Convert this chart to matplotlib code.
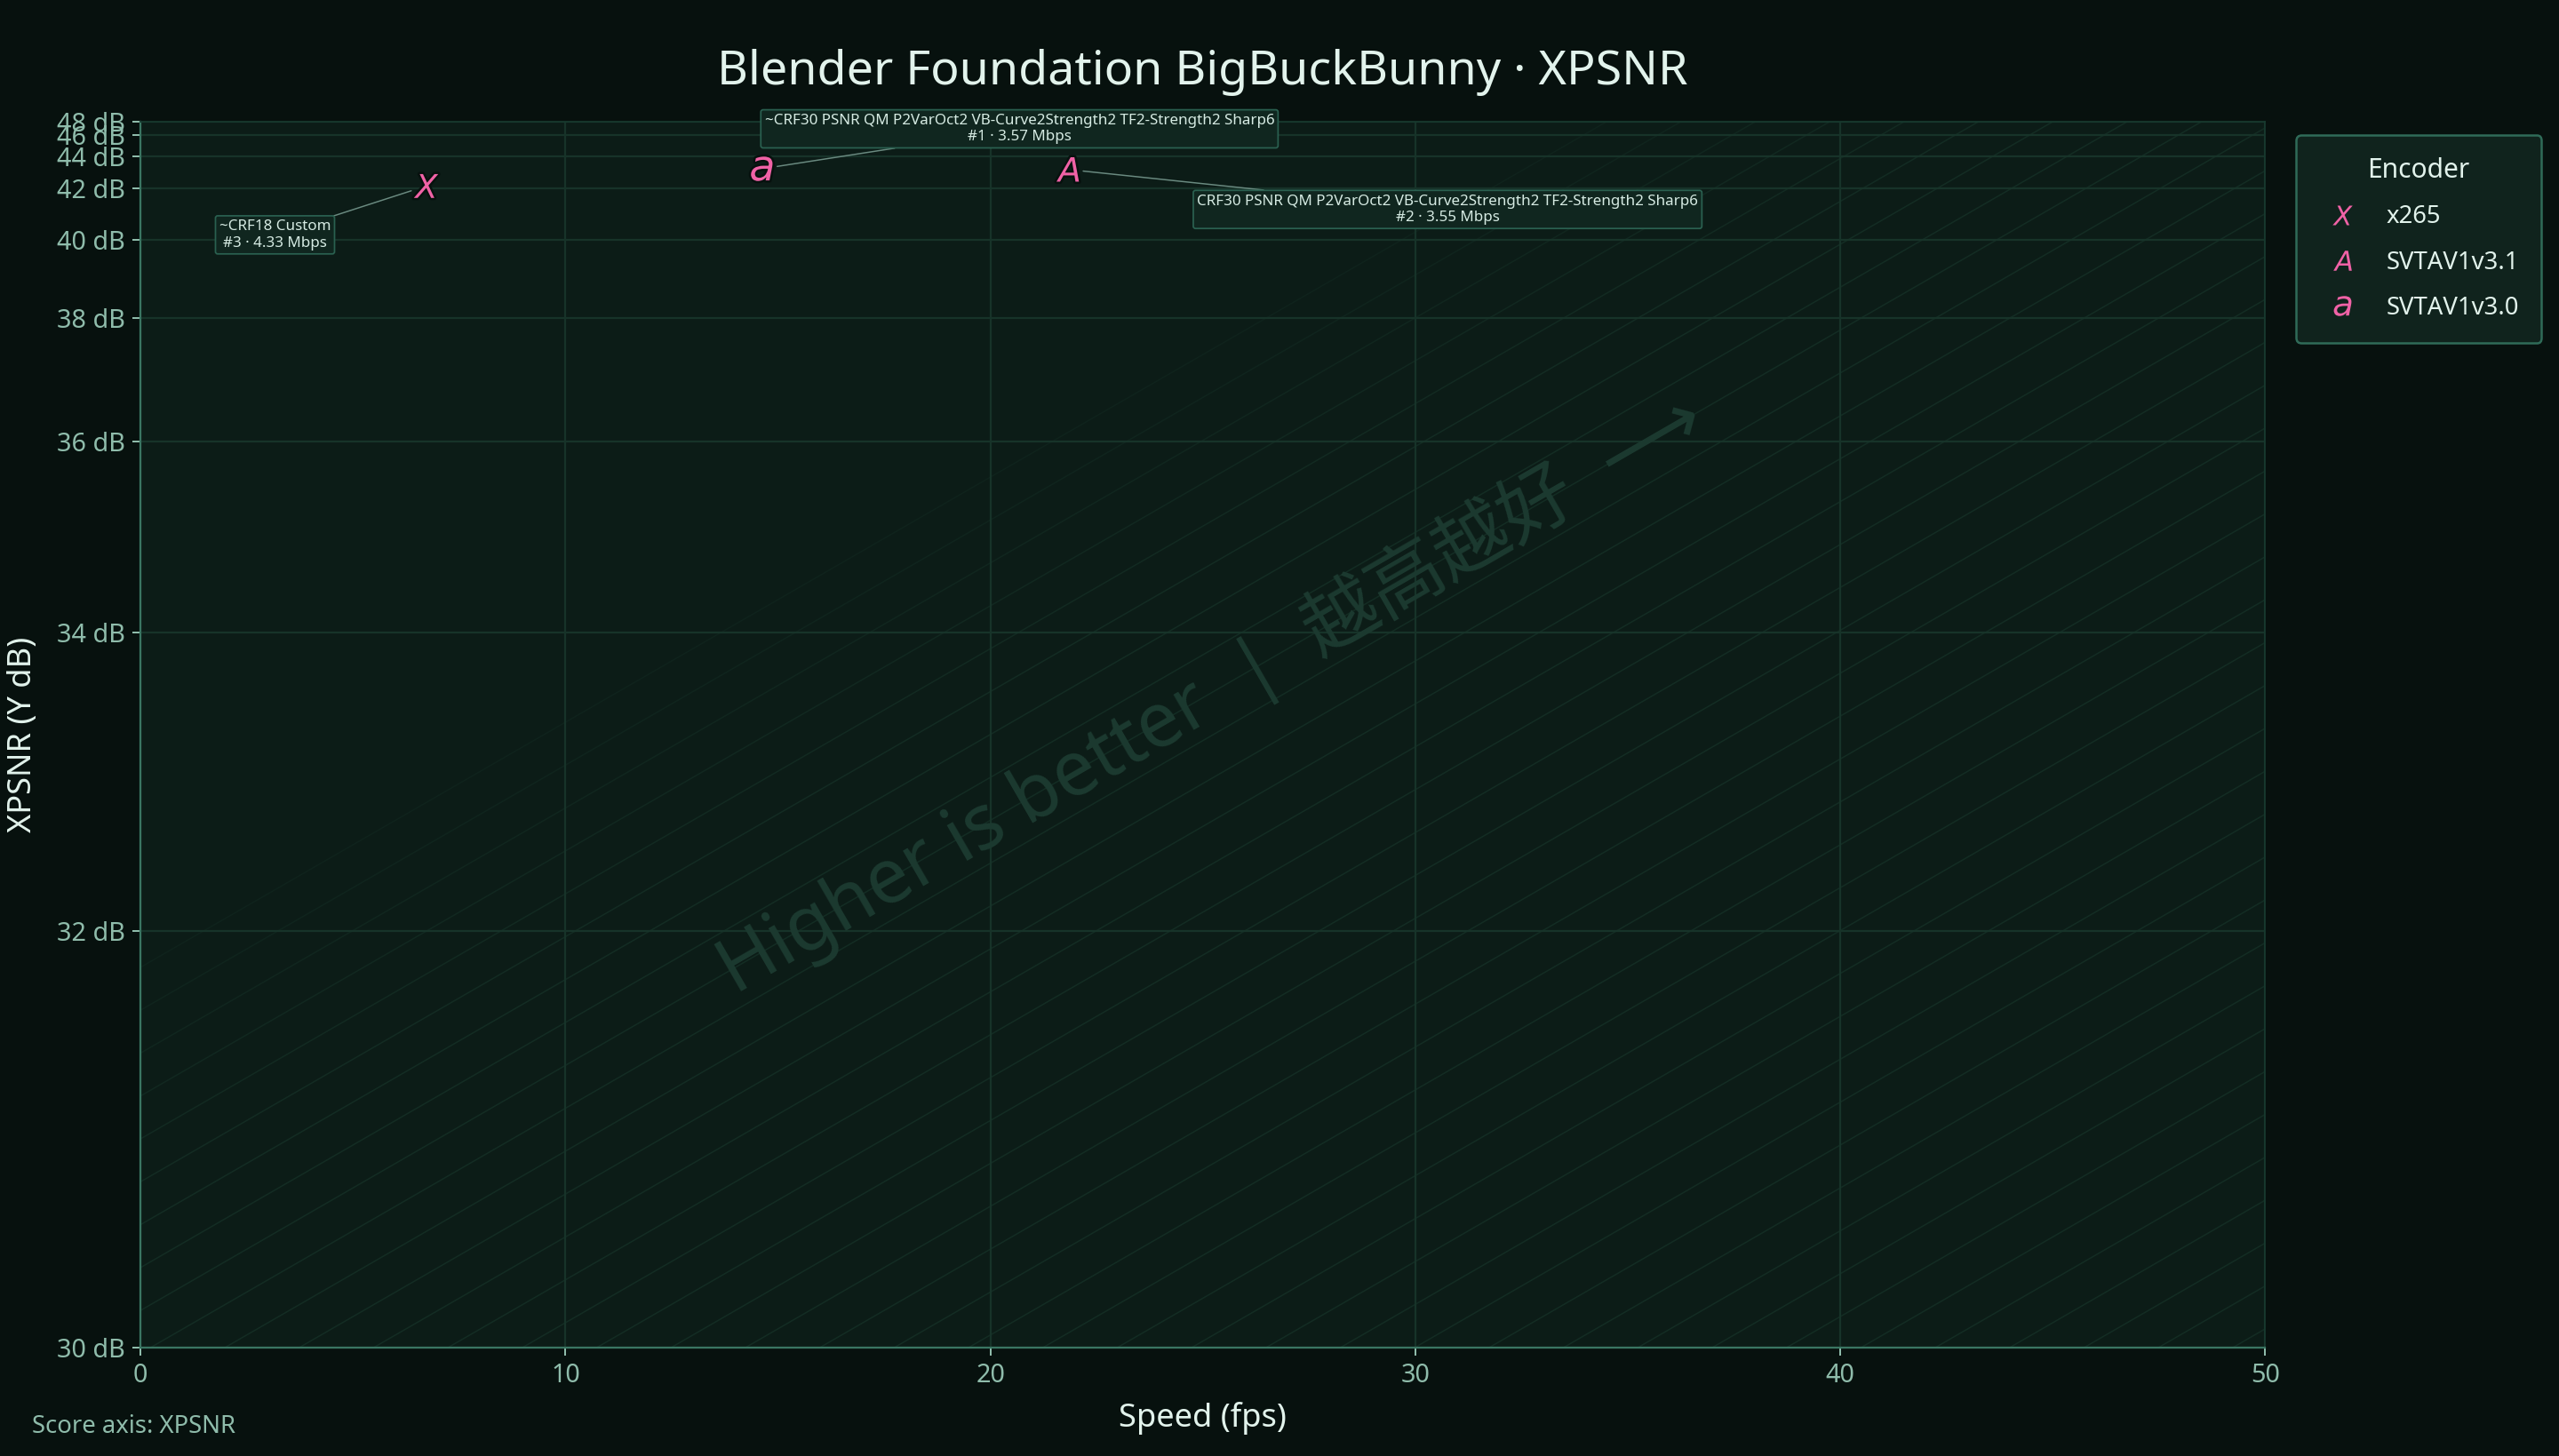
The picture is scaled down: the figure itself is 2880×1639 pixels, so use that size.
import numpy as np
import matplotlib
matplotlib.use("Agg")
import matplotlib.pyplot as plt
import matplotlib.patheffects as pe
from matplotlib.lines import Line2D

plt.rcParams["font.family"] = ["Noto Sans", "Noto Sans CJK SC", "DejaVu Sans"]

# data
encoders = ["x265", "SVTAV1v3.1", "SVTAV1v3.0"]
glyphs = ["$X$", "$A$", "$a$"]
speed_fps = [6.72, 21.82, 14.62]
xpsnr_db = [42.14, 43.08, 43.12]
presets = [
    "~CRF18 Custom",
    "CRF30 PSNR QM P2VarOct2 VB-Curve2Strength2 TF2-Strength2 Sharp6",
    "~CRF30 PSNR QM P2VarOct2 VB-Curve2Strength2 TF2-Strength2 Sharp6",
]
ranks = [3, 2, 1]
bitrate_mbps = [4.33, 3.55, 3.57]
label_offsets = [(-68, -22), (171, -18), (116, 18)]  # points

x_ticks = [0, 10, 20, 30, 40, 50]
y_lo, y_hi = 30.17, 48.05
y_ticks = [y_lo, 32, 34, 36, 38, 40, 42, 44, 46, 48]

BG = "#07110e"
AX_BG = "#0c1c17"
GRID = "#173329"
SPINE = "#3a7562"
TXT = "#e2f3ec"
MUTED = "#8fbcab"
PINK = "#f062a6"

# mse-like axis: compressed toward high dB
K = 0.2216


def fwd(y):
    return -np.exp(-K * (np.asarray(y, dtype=float) - 30.0))


def inv(t):
    return 30.0 - np.log(np.clip(-np.asarray(t, dtype=float), 1e-12, None)) / K


fig = plt.figure(figsize=(16, 1639 / 180), dpi=180, facecolor=BG)
ax = fig.add_axes([0.0549, 0.0747, 0.8303, 0.8417])
ax.set_facecolor(AX_BG)
ax.set_yscale("function", functions=(fwd, inv))
ax.set_xlim(0, 50)
ax.set_ylim(y_lo, y_hi)

# diagonal stripes in axes space
for c in np.arange(-0.31, 1.0, 0.035):
    if c >= 0:
        xs, ys = [c, 1.0], [0.0, 1.0 - c]
    else:
        xs, ys = [0.0, 1.0 + c], [-c, 1.0]
    a = 0.32 if c > -0.12 else 0.32 - (-0.12 - c) * 1.0
    ax.plot(xs, ys, transform=ax.transAxes, color="#24503f", lw=0.6,
            alpha=max(a, 0.1), zorder=0.5)

ax.text(0.504, 0.533, "Higher is better  |  越高越好  ⟶", transform=ax.transAxes,
        rotation=30, ha="center", va="center", fontsize=34,
        color="#1c3a30", zorder=0.6)

ax.grid(True, color=GRID, lw=0.9, zorder=0.4)
ax.set_axisbelow(True)

halo = [pe.withStroke(linewidth=2, foreground="#07110e")]
for i, enc in enumerate(encoders):
    ax.plot(speed_fps[i], xpsnr_db[i], marker=glyphs[i], ms=11, mew=0,
            color=PINK, ls="none", zorder=5, label=enc, path_effects=halo)
    txt = f"{presets[i]}\n#{ranks[i]} · {bitrate_mbps[i]:.2f} Mbps"
    ax.annotate(txt, (speed_fps[i], xpsnr_db[i]), xytext=label_offsets[i],
                textcoords="offset points", ha="center", va="center",
                multialignment="center", fontsize=6.8, color="#d6ebe3",
                bbox=dict(boxstyle="round,pad=0.25,rounding_size=0.15",
                          fc="#10261f", ec="#2a6050", lw=0.7),
                arrowprops=dict(arrowstyle="-", color="#6a8a80", lw=0.6,
                                shrinkA=0, shrinkB=7),
                zorder=6)

ax.set_xticks(x_ticks)
ax.set_yticks(y_ticks)
ax.set_yticklabels([f"{v:.0f} dB" for v in y_ticks])
ax.minorticks_off()
ax.tick_params(colors=MUTED, labelsize=11.5, length=3.5, width=0.8)
for side in ["left", "bottom"]:
    ax.spines[side].set_color(SPINE)
    ax.spines[side].set_linewidth(0.9)
for side in ["top", "right"]:
    ax.spines[side].set_color("#173a2f")
    ax.spines[side].set_linewidth(0.7)

ax.set_xlabel("Speed (fps)", fontsize=14.5, color=TXT, labelpad=6)
ax.set_ylabel("XPSNR (Y dB)", fontsize=14.5, color=TXT, labelpad=8)
ax.set_title("Blender Foundation BigBuckBunny · XPSNR", fontsize=21.5,
             color=TXT, pad=17)

handles = [Line2D([], [], marker=g, ms=9, mew=0, color=PINK, ls="none")
           for g in glyphs]
leg = ax.legend(handles, encoders, title="Encoder", loc="upper left",
                bbox_to_anchor=(1.0145, 0.989), borderaxespad=0, fontsize=11,
                title_fontsize=12, frameon=True, fancybox=True,
                borderpad=0.9, labelspacing=0.85, handletextpad=0.8)
leg.get_frame().set_facecolor("#10231d")
leg.get_frame().set_edgecolor("#2f6b58")
leg.get_frame().set_linewidth(1.0)
leg.get_frame().set_alpha(1)
for t in leg.get_texts():
    t.set_color(TXT)
leg.get_title().set_color(TXT)

fig.text(0.0125, 0.016, "Score axis: XPSNR", fontsize=11, color=MUTED)

fig.savefig("out.png", dpi=180, facecolor=BG)
